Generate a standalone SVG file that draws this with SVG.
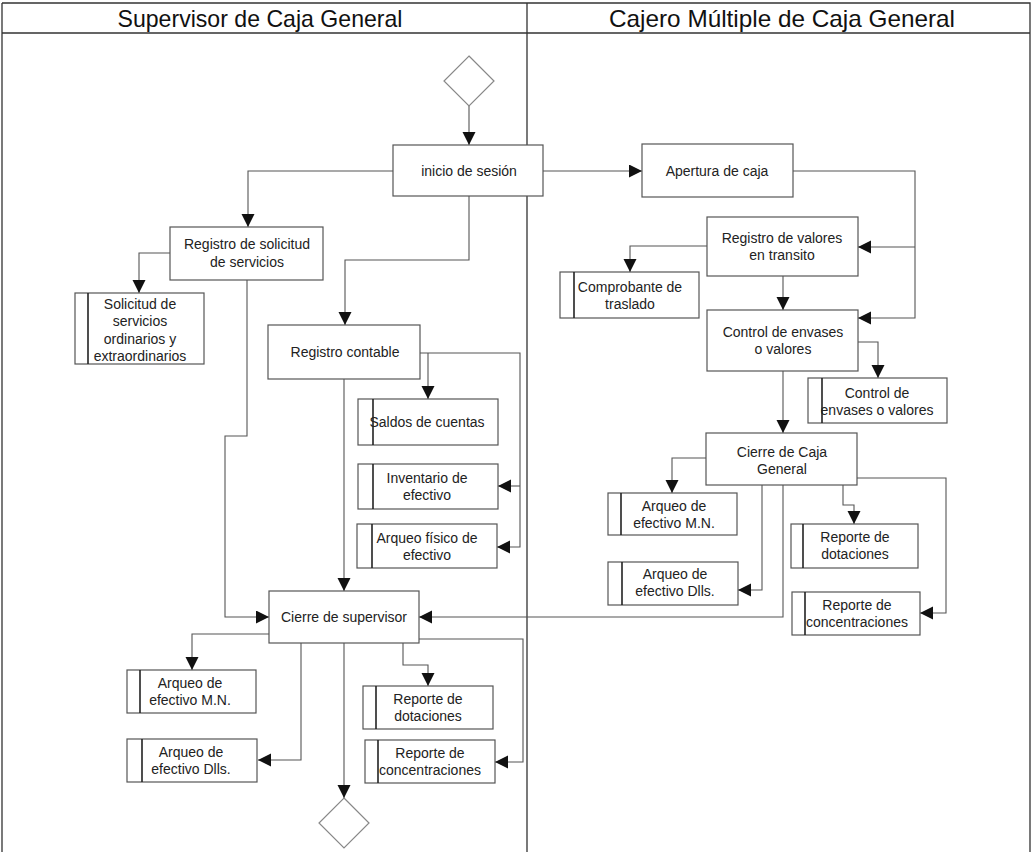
<svg xmlns="http://www.w3.org/2000/svg" width="1033" height="852" viewBox="0 0 1033 852">
  <style>
    .frame { fill: none; stroke: #333; stroke-width: 1.3; }
    .lane { font-family: "Liberation Sans", Arial, sans-serif; font-size: 24px; fill: #111; text-anchor: middle; }
    .box { fill: #fff; stroke: #555; stroke-width: 1.2; }
    .bar { stroke: #222; stroke-width: 1.6; }
    .gate { fill: #fff; stroke: #888; stroke-width: 1.2; }
    .lbl { font-family: "Liberation Sans", Arial, sans-serif; font-size: 14px; fill: #222; text-anchor: middle; }
    .wire { fill: none; stroke: #555; stroke-width: 1.1; marker-end: url(#arrow); }
    .wire.plain { marker-end: none; }
  </style>
  <defs>
    <marker id="arrow" markerUnits="userSpaceOnUse" markerWidth="14" markerHeight="14" refX="13" refY="6.5" orient="auto">
      <path d="M0,0 L13,6.5 L0,13 Z" fill="#111"/>
    </marker>
  </defs>

  <rect width="1033" height="852" fill="#fff"/>

  <!-- swimlane frame -->
  <g id="swimlanes">
    <path class="frame" d="M2,3 H1030 V860 M2,3 V860 M2,33 H1030 M527,3 V860"/>
    <text class="lane" x="260" y="27" textLength="285" lengthAdjust="spacingAndGlyphs">Supervisor de Caja General</text>
    <text class="lane" x="782" y="27" textLength="346" lengthAdjust="spacingAndGlyphs">Cajero Múltiple de Caja General</text>
  </g>

  <!-- connectors -->
  <g id="connectors">
    <path class="wire" d="M469,106 V145"/>
    <path class="wire" d="M543,171 H642"/>
    <path class="wire" d="M393,171 H248 V227"/>
    <path class="wire" d="M469,196 V260 H345 V325"/>
    <path class="wire" d="M170,253 H139 V293"/>
    <path class="wire" d="M247,280 V436 H225 V617 H269"/>
    <path class="wire plain" d="M420,353 H520 V486"/>
    <path class="wire" d="M428,353 V399"/>
    <path class="wire" d="M520,486 H498"/>
    <path class="wire" d="M520,486 V547 H497"/>
    <path class="wire" d="M344,379 V591"/>
    <path class="wire" d="M793,171 H915 V318 H858"/>
    <path class="wire" d="M915,247 H858"/>
    <path class="wire" d="M707,246 H630 V272"/>
    <path class="wire" d="M783,276 V310"/>
    <path class="wire" d="M858,342 H878 V378"/>
    <path class="wire" d="M783,371 V433"/>
    <path class="wire" d="M706,458 H672 V493"/>
    <path class="wire" d="M762,485 V590 H738"/>
    <path class="wire" d="M783,485 V617 H419"/>
    <path class="wire" d="M843,485 V505 H854 V524"/>
    <path class="wire" d="M857,478 H946 V613 H920"/>
    <path class="wire" d="M269,634 H192 V670"/>
    <path class="wire" d="M301,643 V760 H258"/>
    <path class="wire" d="M344,643 V798"/>
    <path class="wire" d="M403,643 V665 H428 V686"/>
    <path class="wire" d="M419,639 H523 V762 H495"/>
  </g>

  <!-- start / end -->
  <g id="start">
    <polygon class="gate" points="469,56 494,81 469,106 444,81"/>
  </g>
  <g id="end">
    <polygon class="gate" points="344,798 369,823 344,848 319,823"/>
  </g>

  <!-- supervisor lane -->
  <g id="inicio-sesion">
    <rect class="box" x="393" y="145" width="150" height="51"/>
    <text class="lbl" x="469" y="176">inicio de sesión</text>
  </g>
  <g id="registro-solicitud">
    <rect class="box" x="170" y="227" width="153" height="53"/>
    <text class="lbl" x="247" y="249">Registro de solicitud</text>
    <text class="lbl" x="247" y="267">de servicios</text>
  </g>
  <g id="doc-solicitud">
    <rect class="box" x="75" y="293" width="129" height="71"/>
    <line class="bar" x1="88" y1="293" x2="88" y2="364"/>
    <text class="lbl" x="140" y="309">Solicitud de</text>
    <text class="lbl" x="140" y="326">servicios</text>
    <text class="lbl" x="140" y="344">ordinarios y</text>
    <text class="lbl" x="140" y="361">extraordinarios</text>
  </g>
  <g id="registro-contable">
    <rect class="box" x="268" y="325" width="152" height="54"/>
    <text class="lbl" x="345" y="357">Registro contable</text>
  </g>
  <g id="doc-saldos">
    <rect class="box" x="358" y="399" width="140" height="46"/>
    <line class="bar" x1="373" y1="399" x2="373" y2="445"/>
    <text class="lbl" x="427" y="427">Saldos de cuentas</text>
  </g>
  <g id="doc-inventario">
    <rect class="box" x="358" y="464" width="140" height="45"/>
    <line class="bar" x1="373" y1="464" x2="373" y2="509"/>
    <text class="lbl" x="427" y="483">Inventario de</text>
    <text class="lbl" x="427" y="500">efectivo</text>
  </g>
  <g id="doc-arqueo-fisico">
    <rect class="box" x="357" y="524" width="140" height="44"/>
    <line class="bar" x1="372" y1="524" x2="372" y2="568"/>
    <text class="lbl" x="427" y="543">Arqueo físico de</text>
    <text class="lbl" x="427" y="560">efectivo</text>
  </g>
  <g id="cierre-supervisor">
    <rect class="box" x="269" y="591" width="150" height="52"/>
    <text class="lbl" x="344" y="622">Cierre de supervisor</text>
  </g>
  <g id="doc-arqueo-mn-sup">
    <rect class="box" x="127" y="670" width="129" height="43"/>
    <line class="bar" x1="140" y1="670" x2="140" y2="713"/>
    <text class="lbl" x="190" y="688">Arqueo de</text>
    <text class="lbl" x="190" y="705">efectivo M.N.</text>
  </g>
  <g id="doc-arqueo-dlls-sup">
    <rect class="box" x="127" y="739" width="130" height="43"/>
    <line class="bar" x1="142" y1="739" x2="142" y2="782"/>
    <text class="lbl" x="191" y="757">Arqueo de</text>
    <text class="lbl" x="191" y="774">efectivo Dlls.</text>
  </g>
  <g id="doc-dotaciones-sup">
    <rect class="box" x="363" y="686" width="130" height="43"/>
    <line class="bar" x1="376" y1="686" x2="376" y2="729"/>
    <text class="lbl" x="428" y="704">Reporte de</text>
    <text class="lbl" x="428" y="721">dotaciones</text>
  </g>
  <g id="doc-concentraciones-sup">
    <rect class="box" x="365" y="740" width="130" height="43"/>
    <line class="bar" x1="378" y1="740" x2="378" y2="783"/>
    <text class="lbl" x="430" y="758">Reporte de</text>
    <text class="lbl" x="430" y="775">concentraciones</text>
  </g>

  <!-- cashier lane -->
  <g id="apertura-caja">
    <rect class="box" x="642" y="144" width="151" height="53"/>
    <text class="lbl" x="717" y="176">Apertura de caja</text>
  </g>
  <g id="registro-valores">
    <rect class="box" x="707" y="217" width="151" height="59"/>
    <text class="lbl" x="782" y="243">Registro de valores</text>
    <text class="lbl" x="782" y="260">en transito</text>
  </g>
  <g id="doc-comprobante">
    <rect class="box" x="560" y="272" width="139" height="46"/>
    <line class="bar" x1="574" y1="272" x2="574" y2="318"/>
    <text class="lbl" x="630" y="292">Comprobante de</text>
    <text class="lbl" x="630" y="309">traslado</text>
  </g>
  <g id="control-envases">
    <rect class="box" x="707" y="310" width="151" height="61"/>
    <text class="lbl" x="783" y="337">Control de envases</text>
    <text class="lbl" x="783" y="354">o valores</text>
  </g>
  <g id="doc-control-envases">
    <rect class="box" x="808" y="378" width="139" height="45"/>
    <line class="bar" x1="822" y1="378" x2="822" y2="423"/>
    <text class="lbl" x="877" y="398">Control de</text>
    <text class="lbl" x="877" y="415">envases o valores</text>
  </g>
  <g id="cierre-caja-general">
    <rect class="box" x="706" y="433" width="151" height="52"/>
    <text class="lbl" x="782" y="457">Cierre de Caja</text>
    <text class="lbl" x="782" y="474">General</text>
  </g>
  <g id="doc-arqueo-mn-caja">
    <rect class="box" x="608" y="493" width="129" height="42"/>
    <line class="bar" x1="621" y1="493" x2="621" y2="535"/>
    <text class="lbl" x="674" y="511">Arqueo de</text>
    <text class="lbl" x="674" y="528">efectivo M.N.</text>
  </g>
  <g id="doc-arqueo-dlls-caja">
    <rect class="box" x="608" y="562" width="130" height="43"/>
    <line class="bar" x1="622" y1="562" x2="622" y2="605"/>
    <text class="lbl" x="675" y="579">Arqueo de</text>
    <text class="lbl" x="675" y="596">efectivo Dlls.</text>
  </g>
  <g id="doc-dotaciones-caja">
    <rect class="box" x="791" y="524" width="127" height="44"/>
    <line class="bar" x1="803" y1="524" x2="803" y2="568"/>
    <text class="lbl" x="855" y="542">Reporte de</text>
    <text class="lbl" x="855" y="559">dotaciones</text>
  </g>
  <g id="doc-concentraciones-caja">
    <rect class="box" x="792" y="592" width="128" height="43"/>
    <line class="bar" x1="805" y1="592" x2="805" y2="635"/>
    <text class="lbl" x="857" y="610">Reporte de</text>
    <text class="lbl" x="857" y="627">concentraciones</text>
  </g>
</svg>
